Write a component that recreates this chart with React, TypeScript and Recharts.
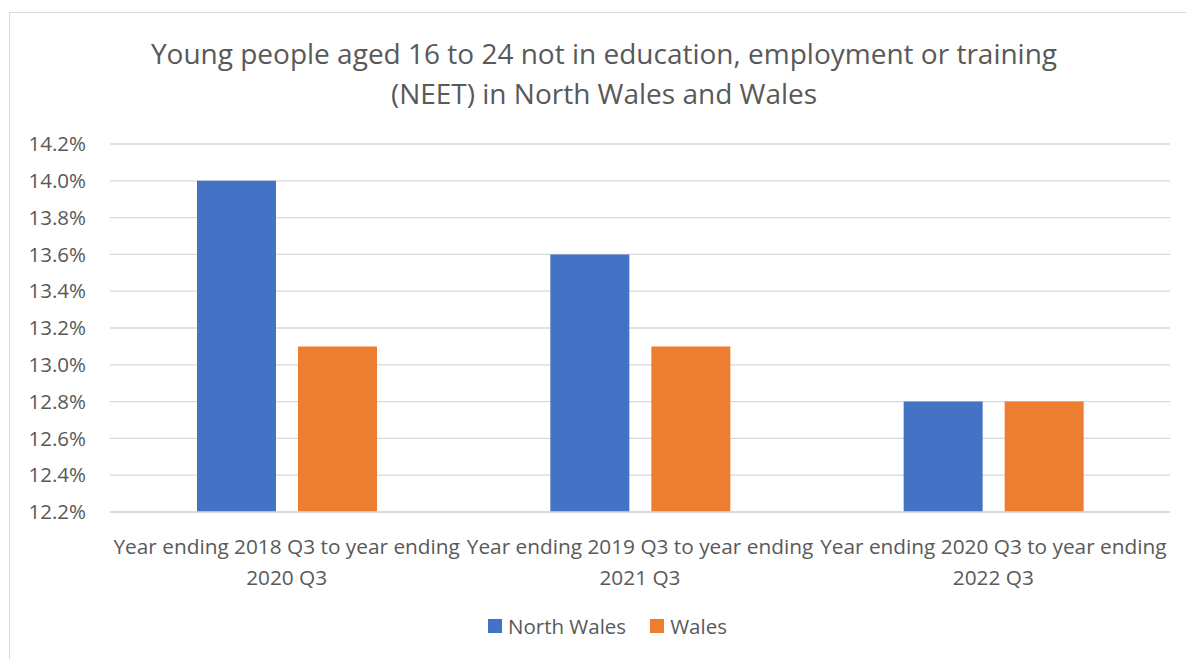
import { BarChart, Bar, XAxis, YAxis, CartesianGrid } from "recharts";

const categories = [
  "Year ending 2018 Q3 to year ending 2020 Q3",
  "Year ending 2019 Q3 to year ending 2021 Q3",
  "Year ending 2020 Q3 to year ending 2022 Q3",
];
const northWales = [14.0, 13.6, 12.8];
const wales = [13.1, 13.1, 12.8];
const yTicks = [12.2, 12.4, 12.6, 12.8, 13.0, 13.2, 13.4, 13.6, 13.8, 14.0, 14.2];

const BLUE = "#4472C4";
const ORANGE = "#ED7D31";
const TEXT = "#595959";
const FONT = "'Open Sans', sans-serif";

const data = categories.map((c, i) => ({
  name: c,
  north: northWales[i],
  wales: wales[i],
}));

function CategoryTick(props: any) {
  const { x, y, payload } = props;
  const label: string = payload.value;
  const cut = label.lastIndexOf(" 20");
  const line1 = label.slice(0, cut);
  const line2 = label.slice(cut + 1);
  return (
    <text x={x} y={y} textAnchor="middle" fill={TEXT} fontSize={20.8} fontFamily={FONT}>
      <tspan x={x} dy={40}>{line1}</tspan>
      <tspan x={x} dy={31}>{line2}</tspan>
    </text>
  );
}

export default function App() {
  return (
    <div
      style={{
        position: "absolute",
        top: 0,
        left: 0,
        width: 1186,
        height: 659,
        overflow: "hidden",
        background: "#fff",
        fontFamily: FONT,
      }}
    >
      <div
        style={{
          position: "absolute",
          left: 9,
          top: 12,
          width: 1220,
          height: 700,
          border: "1.5px solid #d9d9d9",
        }}
      />
      <div
        style={{
          position: "absolute",
          left: 10,
          top: 33,
          width: 1188,
          textAlign: "center",
          color: TEXT,
          fontSize: 28,
          lineHeight: "40px",
        }}
      >
        Young people aged 16 to 24 not in education, employment or training
        <br />
        (NEET) in North Wales and Wales
      </div>
      <div style={{ position: "absolute", left: 0, top: 0 }}>
        <BarChart
          width={1186}
          height={659}
          data={data}
          margin={{ top: 144, right: 16, bottom: 47, left: 0 }}
          barSize={79}
          barGap={22}
        >
          <CartesianGrid stroke="#d9d9d9" strokeWidth={1.3} vertical={false} />
          <XAxis
            dataKey="name"
            height={100}
            tickLine={false}
            tickSize={0}
            axisLine={{ stroke: "#d9d9d9", strokeWidth: 1.3 }}
            tick={<CategoryTick />}
            interval={0}
          />
          <YAxis
            width={110}
            domain={[12.2, 14.2]}
            ticks={yTicks}
            allowDataOverflow
            axisLine={false}
            tickLine={false}
            tickSize={0}
            tickMargin={24}
            tick={{ fill: TEXT, fontSize: 20.5, fontFamily: FONT }}
            tickFormatter={(v: number) => `${v.toFixed(1)}%`}
          />
          <Bar dataKey="north" fill={BLUE} isAnimationActive={false} />
          <Bar dataKey="wales" fill={ORANGE} isAnimationActive={false} />
        </BarChart>
      </div>
      <div
        style={{
          position: "absolute",
          top: 611,
          left: 488,
          display: "flex",
          alignItems: "center",
          color: TEXT,
          fontSize: 20.5,
          lineHeight: "30px",
        }}
      >
        <span style={{ display: "inline-block", width: 14, height: 14, background: BLUE, marginRight: 6 }} />
        <span>North Wales</span>
        <span style={{ display: "inline-block", width: 14, height: 14, background: ORANGE, marginLeft: 24, marginRight: 6 }} />
        <span>Wales</span>
      </div>
    </div>
  );
}
